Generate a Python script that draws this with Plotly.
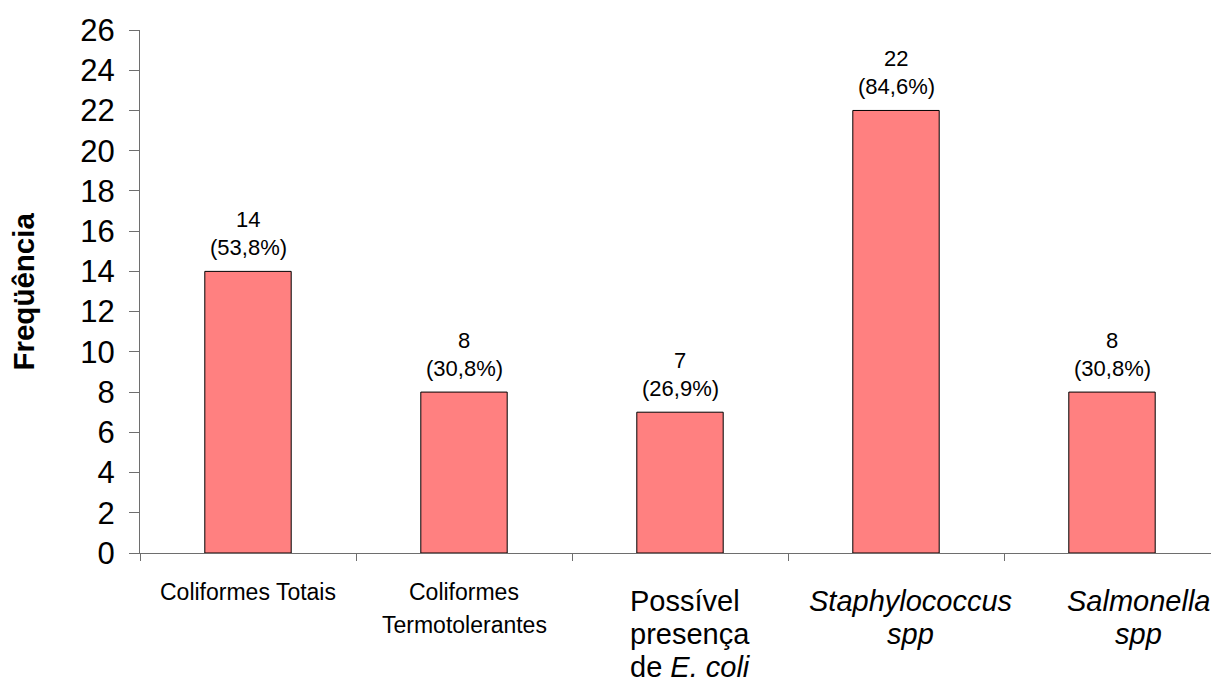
import plotly.graph_objects as go

# Número de amostras positivas por grupo microbiano (n = 26)
total_amostras = 26
categorias = [
    ["Coliformes Totais"],
    ["Coliformes", "Termotolerantes"],
    ["Possível", "presença", "de <i>E. coli</i>"],
    ["<i>Staphylococcus</i>", "<i>spp</i>"],
    ["<i>Salmonella</i>", "<i>spp</i>"],
]
frequencias = [14, 8, 7, 22, 8]
y_ticks = list(range(0, 27, 2))

FONT = "Liberation Sans, Arial, sans-serif"
AXIS_COLOR = "#6e6e6e"

x_pos = list(range(len(frequencias)))
percentuais = [f"({v / total_amostras * 100:.1f}%)".replace(".", ",") for v in frequencias]

fig = go.Figure()
fig.add_trace(go.Bar(
    x=x_pos,
    y=frequencias,
    width=0.4,
    marker=dict(color="#FF8080", line=dict(color="#000000", width=1)),
    hoverinfo="skip",
))

annotations = []

# rótulos de valor acima das barras
for xi, v, pct in zip(x_pos, frequencias, percentuais):
    annotations.append(dict(x=xi, y=v, xref="x", yref="y", text=str(v), showarrow=False,
                            yanchor="middle", yshift=52, font=dict(family=FONT, size=22, color="#000")))
    annotations.append(dict(x=xi, y=v, xref="x", yref="y", text=pct, showarrow=False,
                            yanchor="middle", yshift=24, font=dict(family=FONT, size=22, color="#000")))

# rótulos das categorias (uma anotação por linha)
label_style = [
    dict(size=23, anchor="center", dx=0, first=-38.5, step=33),
    dict(size=23, anchor="center", dx=0, first=-38.5, step=33),
    dict(size=29, anchor="left", dx=-52, first=-47.5, step=33),
    dict(size=29, anchor="center", dx=14, first=-47.5, step=33),
    dict(size=29, anchor="center", dx=26, first=-47.5, step=33),
]
for xi, linhas, st in zip(x_pos, categorias, label_style):
    for k, linha in enumerate(linhas):
        annotations.append(dict(
            x=xi, y=0, xref="x", yref="y", text=linha, showarrow=False,
            xanchor=st["anchor"], yanchor="middle", align=st["anchor"],
            xshift=st["dx"], yshift=st["first"] - k * st["step"],
            font=dict(family=FONT, size=st["size"], color="#000"),
        ))

# título do eixo y
annotations.append(dict(
    x=-0.1092, y=0.5, xref="paper", yref="paper", text="<b>Freqüência</b>",
    textangle=-90, showarrow=False, xanchor="center", yanchor="middle",
    font=dict(family=FONT, size=29.5, color="#000"),
))

fig.update_layout(
    width=1211, height=677,
    margin=dict(l=140, r=0, t=30, b=123.5, pad=0),
    paper_bgcolor="white", plot_bgcolor="white",
    showlegend=False,
    annotations=annotations,
    xaxis=dict(
        range=[-0.5, -0.5 + 1071 / 216],
        tickmode="array",
        tickvals=[i - 0.5 for i in range(len(frequencias) + 1)],
        ticktext=[""] * (len(frequencias) + 1),
        ticks="outside", ticklen=7, tickcolor=AXIS_COLOR, tickwidth=1,
        showline=True, linecolor=AXIS_COLOR, linewidth=1,
        showgrid=False, zeroline=False, fixedrange=True,
    ),
    yaxis=dict(
        range=[0, 26],
        tickmode="array", tickvals=y_ticks, ticktext=[str(t) for t in y_ticks],
        ticks="outside", ticklen=10, tickcolor=AXIS_COLOR, tickwidth=1,
        ticklabelstandoff=8,
        tickfont=dict(family=FONT, size=31, color="#000"),
        showline=True, linecolor=AXIS_COLOR, linewidth=1,
        showgrid=False, zeroline=False, fixedrange=True,
    ),
)

fig.write_html("out.html")
